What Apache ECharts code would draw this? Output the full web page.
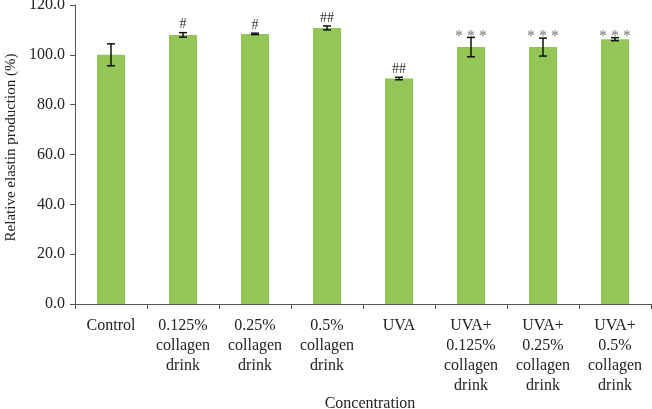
<!DOCTYPE html>
<html><head><meta charset="utf-8">
<script src="https://cdn.jsdelivr.net/npm/echarts@6/dist/echarts.min.js"></script>
<style>html,body{margin:0;padding:0;background:#fff}#c{width:652px;height:409px}</style>
</head><body><div id="c"></div>
<script>
const categories = ['Control','0.125%\ncollagen\ndrink','0.25%\ncollagen\ndrink','0.5%\ncollagen\ndrink','UVA','UVA+\n0.125%\ncollagen\ndrink','UVA+\n0.25%\ncollagen\ndrink','UVA+\n0.5%\ncollagen\ndrink'];
const values = [100.0, 108.0, 108.4, 110.8, 90.5, 103.1, 103.1, 106.3];
const errors = [4.4, 0.9, 0.3, 0.8, 0.5, 3.9, 3.6, 0.6];
const marks = ['', '#', '#', '##', '##', '***', '***', '***'];
const yTicks = {min: 0, max: 120, interval: 20};

const FONT = '"Liberation Serif", "DejaVu Serif", serif';
const chart = echarts.init(document.getElementById('c'), null, {renderer: 'canvas'});
chart.setOption({
  animation: false,
  grid: {left: 75, right: 1, top: 5, bottom: 105, containLabel: false, outerBoundsMode: 'none'},
  xAxis: {
    type: 'category', data: categories,
    name: 'Concentration', nameLocation: 'middle', nameGap: 92, nameMoveOverlap: false,
    nameTextStyle: {fontFamily: FONT, fontSize: 16, color: '#222', padding: [0, 0, 0, 14]},
    axisLine: {lineStyle: {color: '#555', width: 1}},
    axisTick: {show: true, length: 5, lineStyle: {color: '#555'}},
    axisLabel: {interval: 0, fontFamily: FONT, fontSize: 16, color: '#222', margin: 12, lineHeight: 20}
  },
  yAxis: {
    type: 'value', min: yTicks.min, max: yTicks.max, interval: yTicks.interval,
    name: 'Relative elastin production (%)', nameLocation: 'middle', nameGap: 56, nameMoveOverlap: false,
    nameTextStyle: {fontFamily: FONT, fontSize: 15, color: '#222', padding: [0, 0, 0, 14]},
    axisLine: {show: true, lineStyle: {color: '#555', width: 1}},
    axisTick: {show: true, length: 5, lineStyle: {color: '#555'}},
    splitLine: {show: false},
    axisLabel: {fontFamily: FONT, fontSize: 16, color: '#222', margin: 10, formatter: v => v.toFixed(1)}
  },
  series: [
    {type: 'bar', data: values, barWidth: 28, itemStyle: {color: '#93C656'}},
    {
      type: 'custom',
      data: values.map((v, i) => [i, v, errors[i]]),
      z: 10,
      renderItem: function (params, api) {
        const x = api.value(0), m = api.value(1), e = api.value(2);
        const hi = api.coord([x, m + e]);
        const lo = api.coord([x, m - e]);
        const h = 4;
        const st = {stroke: '#111', lineWidth: 1.5};
        const mk = marks[params.dataIndex];
        const isStar = mk.indexOf('*') >= 0;
        const children = [
          {type: 'line', shape: {x1: hi[0], y1: hi[1], x2: lo[0], y2: lo[1]}, style: st},
          {type: 'line', shape: {x1: hi[0] - h, y1: hi[1], x2: hi[0] + h, y2: hi[1]}, style: st},
          {type: 'line', shape: {x1: lo[0] - h, y1: lo[1], x2: lo[0] + h, y2: lo[1]}, style: st}
        ];
        if (mk) {
          children.push({
            type: 'text',
            style: {
              text: isStar ? mk.split('').join(' ') : mk,
              x: hi[0], y: isStar ? hi[1] - 1 : hi[1] - 8,
              textAlign: 'center', textVerticalAlign: 'middle',
              fontFamily: FONT, fontSize: isStar ? 16 : 14,
              fill: isStar ? '#777' : '#333'
            }
          });
        }
        return {type: 'group', children: children};
      }
    }
  ]
});
</script></body></html>
